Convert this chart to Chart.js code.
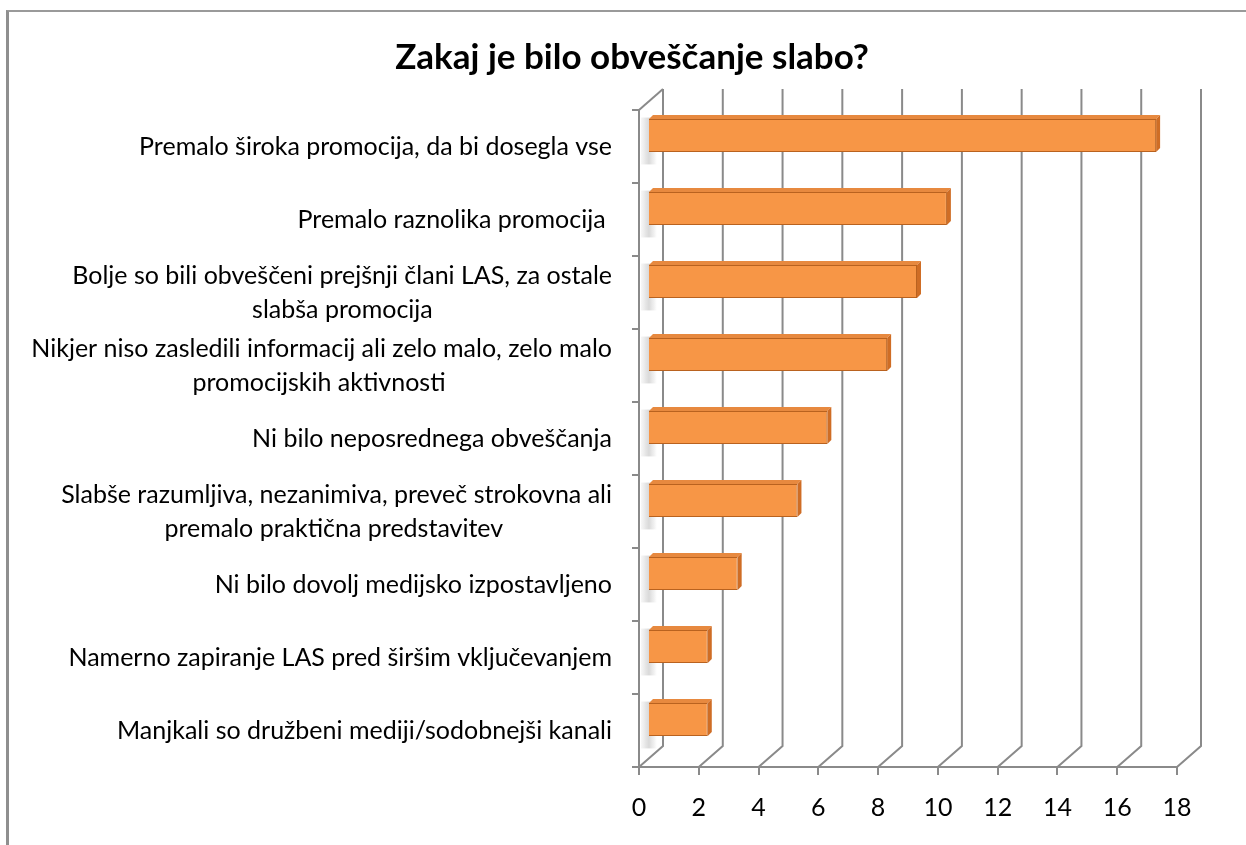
<!DOCTYPE html>
<html lang="sl">
<head>
<meta charset="UTF-8">
<title>Zakaj je bilo obveščanje slabo?</title>
<script src="https://cdn.jsdelivr.net/npm/chart.js"></script>
<style>
  body { margin: 0; background: #fff; overflow: hidden; }
  #frame { position: absolute; left: 6px; top: 10px; width: 1400px; height: 1000px;
           border-left: 3px solid #8f8f8f; border-top: 2px solid #9a9a9a; }
  #title { position: absolute; left: 18px; width: 1228px; top: 33px; text-align: center;
           font: bold 35px Lato, sans-serif; color: #000; line-height: 44px; }
  #chart { position: absolute; left: 0; top: 0; }
</style>
</head>
<body>
<div id="frame"></div>
<canvas id="chart" width="1246" height="845"></canvas>
<div id="title"></div>
<script>
  // data
  const title = 'Zakaj je bilo obveščanje slabo?';
  const categories = [
    ['Premalo široka promocija, da bi dosegla vse'],
    ['Premalo raznolika promocija '],
    ['Bolje so bili obveščeni prejšnji člani LAS, za ostale', 'slabša promocija'],
    ['Nikjer niso zasledili informacij ali zelo malo, zelo malo', 'promocijskih aktivnosti'],
    ['Ni bilo neposrednega obveščanja'],
    ['Slabše razumljiva, nezanimiva, preveč strokovna ali', 'premalo praktična predstavitev'],
    ['Ni bilo dovolj medijsko izpostavljeno'],
    ['Namerno zapiranje LAS pred širšim vključevanjem'],
    ['Manjkali so družbeni mediji/sodobnejši kanali']
  ];
  const counts = [17, 10, 9, 8, 6, 5, 3, 2, 2];
  const xTicks = [0, 2, 4, 6, 8, 10, 12, 14, 16, 18];

  document.getElementById('title').textContent = title;

  const FONT = 'Lato';
  const labelSize = 25;
  const depth = { x: 24, y: -21 };   // 3D back wall offset
  const gridColor = '#8a8a8a';

  // wrapped lines are centred under each other, block is right aligned
  const mctx = document.createElement('canvas').getContext('2d');
  mctx.font = labelSize + 'px ' + FONT;
  const spaceW = mctx.measureText(' ').width;
  const tickLabels = categories.map(lines => {
    if (lines.length < 2) return lines[0];
    const widest = Math.max(...lines.map(l => mctx.measureText(l).width));
    return lines.map(l => l + ' '.repeat(Math.round((widest - mctx.measureText(l).width) / 2 / spaceW)));
  });

  const wall3d = {
    id: 'wall3d',
    beforeDatasetsDraw(chart) {
      const { ctx, chartArea, scales } = chart;
      ctx.save();
      // shadows of the bars on the left wall
      chart.getDatasetMeta(0).data.forEach(bar => {
        const top = bar.y - bar.height / 2 + depth.y / 2;
        const g = ctx.createLinearGradient(chartArea.left, 0, chartArea.left + 18, 0);
        g.addColorStop(0, 'rgba(120,120,120,0)');
        g.addColorStop(0.55, 'rgba(120,120,120,0.28)');
        g.addColorStop(1, 'rgba(120,120,120,0)');
        ctx.fillStyle = g;
        ctx.fillRect(chartArea.left + 2, top - 2, 16, bar.height + 14);
      });
      ctx.strokeStyle = gridColor;
      ctx.lineWidth = 2;
      xTicks.forEach(v => {
        const x = scales.x.getPixelForValue(v);
        ctx.beginPath();
        ctx.moveTo(x, chartArea.bottom);
        ctx.lineTo(x + depth.x, chartArea.bottom + depth.y);
        ctx.lineTo(x + depth.x, chartArea.top + depth.y);
        ctx.stroke();
      });
      ctx.beginPath();
      ctx.moveTo(chartArea.left, chartArea.top);
      ctx.lineTo(chartArea.left + depth.x, chartArea.top + depth.y);
      ctx.stroke();
      ctx.restore();
      // bars sit part way into the depth
      ctx.save();
      ctx.translate(9, -11);
    },
    afterDatasetsDraw(chart) {
      const ctx = chart.ctx;
      const d = 4;
      chart.getDatasetMeta(0).data.forEach(bar => {
        const top = bar.y - bar.height / 2, bottom = bar.y + bar.height / 2;
        ctx.fillStyle = '#e7893f';
        ctx.beginPath();
        ctx.moveTo(bar.base, top);
        ctx.lineTo(bar.base + d, top - d);
        ctx.lineTo(bar.x + d, top - d);
        ctx.lineTo(bar.x, top);
        ctx.closePath();
        ctx.fill();
        ctx.fillStyle = '#cf6d25';
        ctx.beginPath();
        ctx.moveTo(bar.x, top);
        ctx.lineTo(bar.x + d, top - d);
        ctx.lineTo(bar.x + d, bottom - d);
        ctx.lineTo(bar.x, bottom);
        ctx.closePath();
        ctx.fill();
      });
      ctx.restore();
    }
  };

  new Chart(document.getElementById('chart'), {
    type: 'bar',
    data: {
      labels: tickLabels,
      datasets: [{
        data: counts,
        backgroundColor: (c) => {
          const el = c.element;
          if (!c.chart.chartArea || !el || el.height === undefined) return '#f79646';
          const g = c.chart.ctx.createLinearGradient(0, el.y - el.height / 2, 0, el.y + el.height / 2);
          g.addColorStop(0, '#fba75a');
          g.addColorStop(0.5, '#f79646');
          g.addColorStop(1, '#ee8c3c');
          return g;
        },
        borderColor: '#b9621f',
        borderWidth: 1,
        barPercentage: 0.9,
        categoryPercentage: 0.5
      }]
    },
    options: {
      indexAxis: 'y',
      responsive: false,
      animation: false,
      layout: { padding: { left: 20, right: 69, top: 110, bottom: 0 } },
      plugins: {
        legend: { display: false },
        tooltip: { enabled: false },
        title: { display: false }
      },
      scales: {
        x: {
          min: 0, max: 18,
          afterBuildTicks: s => { s.ticks = xTicks.map(v => ({ value: v })); },
          afterFit: s => { s.height = 78; },
          ticks: { color: '#000', font: { family: FONT, size: labelSize }, padding: 18, maxRotation: 0 },
          grid: { drawOnChartArea: false, drawTicks: true, tickLength: 8, color: gridColor, lineWidth: 2 },
          border: { color: gridColor, width: 2 }
        },
        y: {
          afterFit: s => { s.width = 619; },
          ticks: { color: '#000', font: { family: FONT, size: labelSize, lineHeight: '34px' }, padding: 20, crossAlign: 'near' },
          grid: { drawOnChartArea: false, drawTicks: true, tickLength: 7, offset: true, color: gridColor, lineWidth: 2 },
          border: { color: gridColor, width: 2 }
        }
      }
    },
    plugins: [wall3d]
  });
</script>
</body>
</html>
